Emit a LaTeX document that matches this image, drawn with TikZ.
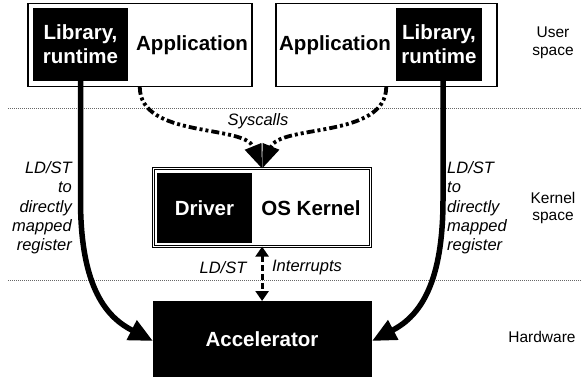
\documentclass[tikz,border=0pt]{standalone}
\usepackage{fontspec}
\setmainfont{Liberation Sans}
\usetikzlibrary{arrows.meta}
\begin{document}
\begin{tikzpicture}[x=1pt,y=-1pt,
  outerbox/.style={draw=black,line width=1.5pt,fill=white,inner sep=0pt,outer sep=0pt,anchor=north west},
  kernbox/.style={draw=black,double=white,double distance=1.4pt,line width=0.9pt,inner sep=0pt,outer sep=0pt,anchor=north west},
  blk/.style={fill=black,draw=none,text=white,font=\fontsize{20.5}{24}\selectfont\bfseries,align=center,inner sep=0pt,outer sep=0pt,anchor=north west},
  boldtxt/.style={font=\fontsize{20.5}{24}\selectfont\bfseries,inner sep=0pt},
  itl/.style={font=\fontsize{16.5}{19.3}\selectfont\itshape,inner sep=0pt},
  side/.style={font=\fontsize{15.5}{17.5}\selectfont,align=center,inner sep=0pt},
  sep/.style={draw=black!60,line width=0.7pt,dash pattern=on 1pt off 1pt},
  bigarrow/.style={line width=5.5pt,-{Triangle[length=24pt,width=21pt]}},
  sys/.style={line width=3.8pt,dash pattern=on 8pt off 3pt on 3pt off 3pt on 3pt off 3pt,-{Triangle[length=24pt,width=17pt]}},
  ldst/.style={line width=3pt,dash pattern=on 6pt off 3pt,{Triangle[length=10pt,width=13pt]}-{Triangle[length=10pt,width=13pt]}}
]
\useasboundingbox (0,0) rectangle (581,377);
% layer separators
\coordinate (s1a) at (8,108);
\coordinate (s1b) at (581,108);
\coordinate (s2a) at (8,280);
\coordinate (s2b) at (581,280);
\draw[sep] (s1a) -- (s1b);
\draw[sep] (s2a) -- (s2b);

% user space boxes
\node[outerbox,minimum width=224pt,minimum height=83pt] (appL) at (27.75,3.75) {};
\node[blk,minimum width=95pt,minimum height=73pt] (libL) at (33,8) {Library,\\runtime};
\node[boldtxt] (appLt) at (192,45) {Application};

\node[outerbox,minimum width=221pt,minimum height=83pt] (appR) at (275.75,3.75) {};
\node[blk,minimum width=86pt,minimum height=73pt] (libR) at (396,8) {Library,\\runtime};
\node[boldtxt] (appRt) at (335,45) {Application};

% kernel
\node[kernbox,minimum width=217pt,minimum height=78pt] (kern) at (153.6,168.6) {};
\node[blk,minimum width=95pt,minimum height=70pt] (drv) at (157,173) {Driver};
\node[boldtxt] (kernt) at (311,208) {OS Kernel};

% accelerator
\node[blk,minimum width=219pt,minimum height=80pt] (acc) at (153,301) {};
\node[boldtxt,text=white] (acct) at (262,339) {Accelerator};

% connectors
\draw[bigarrow] (libL.south) -- (80.5,200) .. controls (80.5,290) and (108,318) .. (acc.west);
\draw[bigarrow] ([xshift=4pt]libR.south) -- (443,200) .. controls (443,290) and (416,318) .. (acc.east);
\draw[sys] (appL.south) .. controls +(0,52) and (244,124) .. (kern.north);
\draw[sys] (appR.south) .. controls +(0,52) and (280,124) .. (kern.north);
\draw[ldst] (kern.south) -- (kern.south|-acc.north);

% labels
\node[itl] (syst) at (258,121) {Syscalls};
\node[itl] (ldl) at (223,268) {LD/ST};
\node[itl] (intl) at (307,268) {Interrupts};
\node[itl,align=right,anchor=east] (leftl) at (72,208) {LD/ST\\to\\directly\\mapped\\register};
\node[itl,align=left,anchor=west] (rightl) at (447,208) {LD/ST\\to\\directly\\mapped\\register};

\node[side] (us) at (553,43) {User\\space};
\node[side] (ks) at (553,208) {Kernel\\space};
\node[side] (hw) at (542,337) {Hardware};
\end{tikzpicture}
\end{document}
